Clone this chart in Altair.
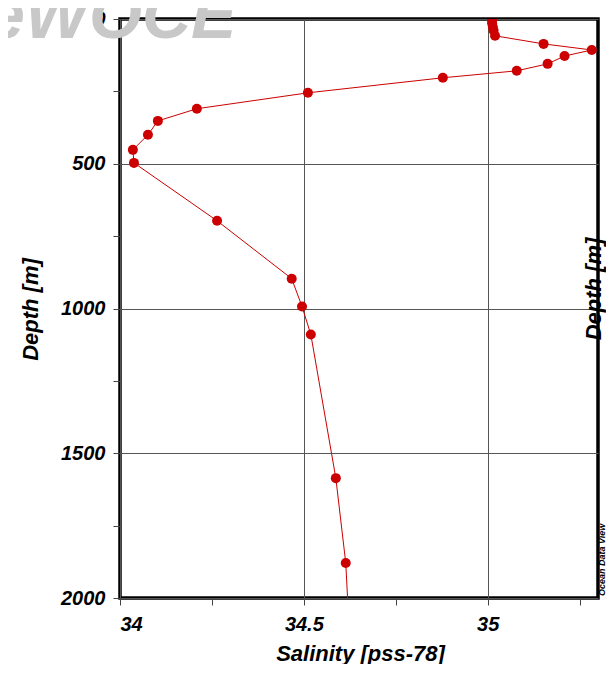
import altair as alt
import pandas as pd

depth = [5, 15, 28, 40, 58, 86, 107, 128, 155, 179, 203, 255, 310, 352, 400, 452, 497,
         697, 897, 993, 1090, 1586, 1879, 2200]
salinity = [35.012, 35.012, 35.014, 35.016, 35.020, 35.152, 35.283, 35.209, 35.163, 35.079,
            34.878, 34.511, 34.209, 34.103, 34.076, 34.035, 34.038,
            34.264, 34.467, 34.495, 34.519, 34.587, 34.614, 34.627]

x_ticks = [34, 34.25, 34.5, 34.75, 35, 35.25]
y_ticks = [0, 250, 500, 750, 1000, 1250, 1500, 1750, 2000]

df = pd.DataFrame({"depth": depth, "sal": salinity})

FONT = "Liberation Sans"
RED = "#cc0000"

xenc = alt.X("sal:Q", scale=alt.Scale(domain=[34, 35.3], nice=False, zero=False),
             axis=alt.Axis(values=x_ticks, title="Salinity [pss-78]",
                           labelExpr="datum.value * 4 % 2 == 0 ? format(datum.value, '~g') : ''",
                           labelFont=FONT, labelFontSize=20, labelFontWeight="bold",
                           labelFontStyle="italic", labelColor="black", labelPadding=9,
                           tickSize=7, tickColor="#444", domain=False,
                           grid=True, gridColor="#555", gridWidth=1,
                           gridOpacity={"condition": {"test": "datum.value * 4 % 2 == 0", "value": 1}, "value": 0},
                           titleFont=FONT, titleFontSize=22, titleFontWeight="bold",
                           titleFontStyle="italic", titleColor="black",
                           titleX=240, titleY=55, titleBaseline="middle", titleAlign="center"))
yenc = alt.Y("depth:Q", scale=alt.Scale(domain=[0, 2000], reverse=True, nice=False),
             axis=alt.Axis(values=y_ticks, title="Depth [m]",
                           labelExpr="datum.value % 500 == 0 ? format(datum.value, 'd') : ''",
                           labelFont=FONT, labelFontSize=20, labelFontWeight="bold",
                           labelFontStyle="italic", labelColor="black", labelPadding=8,
                           tickSize=7, tickColor="#444", domain=False,
                           grid=True, gridColor="#555", gridWidth=1,
                           gridOpacity={"condition": {"test": "datum.value % 500 == 0", "value": 1}, "value": 0},
                           titleFont=FONT, titleFontSize=22, titleFontWeight="bold",
                           titleFontStyle="italic", titleColor="black", titleAngle=270,
                           titleX=-90, titleY=290, titleBaseline="middle", titleAlign="center"))

line = alt.Chart(df).mark_line(color=RED, strokeWidth=1, clip=True).encode(
    x=xenc, y=yenc, order="depth:Q")
pts = alt.Chart(df).mark_circle(color=RED, size=100, opacity=1, clip=True).encode(
    x="sal:Q", y="depth:Q")

wm = alt.Chart(pd.DataFrame({"t": ["eWOCE"]})).mark_text(
    font=FONT, fontSize=68, fontWeight="bold", fontStyle="italic", color="#c8c8c8",
    align="left", baseline="alphabetic").encode(
    text="t:N", x=alt.value(-133), y=alt.value(19))

right_title = alt.Chart(pd.DataFrame({"t": ["Depth [m]"]})).mark_text(
    font=FONT, fontSize=22, fontWeight="bold", fontStyle="italic", color="black",
    angle=270, align="center", baseline="middle").encode(
    text="t:N", x=alt.value(474), y=alt.value(270))

odv = alt.Chart(pd.DataFrame({"t": ["Ocean Data View"]})).mark_text(
    font=FONT, fontSize=9, fontWeight="bold", fontStyle="italic", color="black",
    angle=270, align="left", baseline="middle").encode(
    text="t:N", x=alt.value(482), y=alt.value(577))

chart = alt.layer(wm, line, pts, right_title, odv).properties(
    width=478, height=579,
    autosize=alt.AutoSizeParams(type="none"),
    padding={"left": 112, "top": 11, "right": 8, "bottom": 66},
).configure_view(stroke="black", strokeWidth=3.5)

chart.save("out.html", embed_options={"renderer": "svg", "actions": False})
